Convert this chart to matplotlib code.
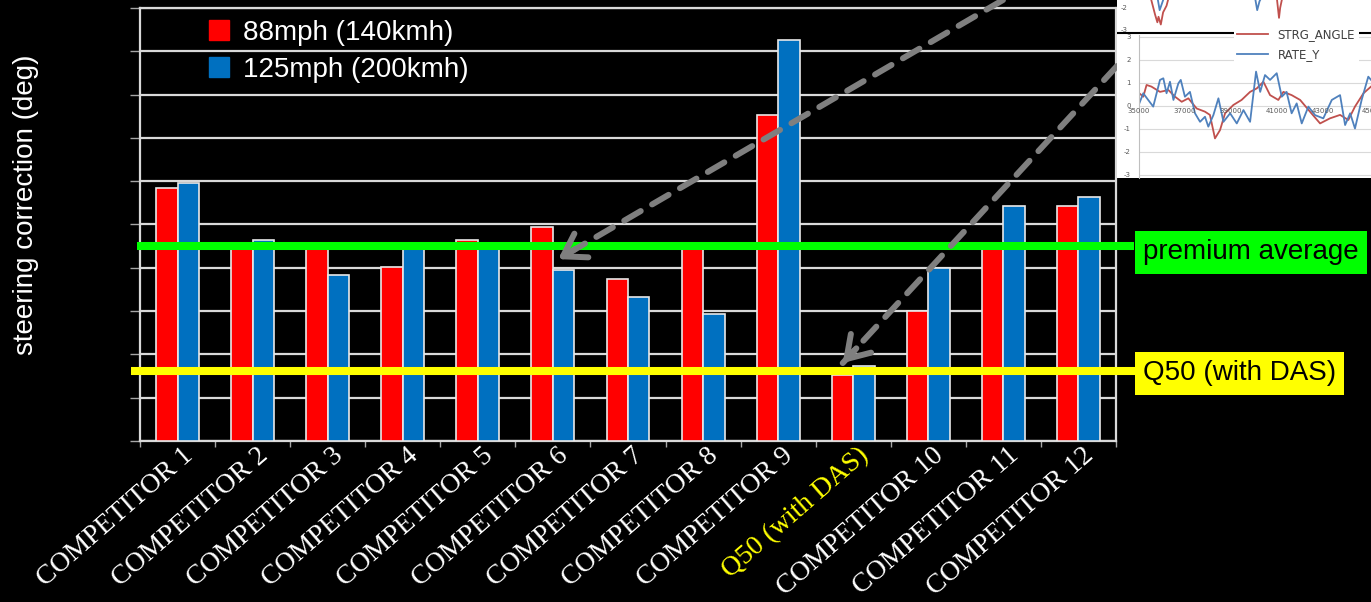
import matplotlib.pyplot as plt
import numpy as np
from matplotlib.patches import Patch
from matplotlib.transforms import ScaledTranslation, blended_transform_factory

plt.rcParams["axes.unicode_minus"] = False

# ---------------------------------------------------------------------
#  data
# ---------------------------------------------------------------------
categories = ["COMPETITOR 1", "COMPETITOR 2", "COMPETITOR 3", "COMPETITOR 4",
              "COMPETITOR 5", "COMPETITOR 6", "COMPETITOR 7", "COMPETITOR 8",
              "COMPETITOR 9", "Q50 (with DAS)", "COMPETITOR 10",
              "COMPETITOR 11", "COMPETITOR 12"]
speed_88 = [5.84, 4.45, 4.45, 4.01, 4.64, 4.95, 3.74, 4.45, 7.53, 1.52, 3.01, 4.45, 5.43]
speed_125 = [5.95, 4.64, 3.83, 4.45, 4.55, 3.95, 3.33, 2.93, 9.25, 1.73, 4.00, 5.43, 5.64]
series_labels = ["88mph (140kmh)", "125mph (200kmh)"]
premium_average = 4.5
q50_level = 1.62
highlight = "Q50 (with DAS)"

# inset trace (screenshot of a logger plot)
strg_x = [35013, 35185, 35330, 35540, 35915, 36280, 36570, 36860, 37150, 37510,
          37875, 38090, 38310, 38530, 38750, 39110, 39470, 39840, 40130, 40420,
          40710, 41070, 41290, 41650, 42020, 42450, 42890, 43320, 43760, 44120,
          44410, 44780, 45110]
strg_y = [0.54, 0.39, 0.90, 0.83, 0.60, 0.68, 0.39, 0.17, 0.32, -0.12,
          -0.26, -0.40, -1.42, -1.06, -0.33, 0.03, 0.25, 0.60, 0.75, 1.04,
          0.46, 0.25, 0.60, 0.46, 0.25, -0.26, -0.77, -0.55, -0.40, -0.62,
          -0.04, 0.54, 0.83]
rate_x = [35013, 35185, 35400, 35620, 35915, 36060, 36200, 36350, 36500, 36715,
          36820, 37000, 37220, 37440, 37660, 37875, 38020, 38240, 38460, 38680,
          38970, 39260, 39550, 39840, 40100, 40280, 40490, 40710, 41000, 41220,
          41430, 41650, 41870, 42090, 42380, 42670, 43030, 43400, 43760, 43980,
          44200, 44410, 44700, 44990, 45110]
rate_y = [0.10, 0.54, 0.25, -0.04, 1.12, 1.19, 0.54, 1.04, 0.25, 0.97,
          1.12, 0.39, 0.60, -0.33, -0.70, -0.48, -0.91, -0.41, 0.32, -0.70,
          -0.33, -0.77, -0.19, -0.70, 1.48, 0.60, 1.33, 1.12, 1.41, 0.39,
          0.60, -0.33, 0.10, -0.77, -0.04, -0.41, -0.55, 0.25, 0.46, -0.84,
          -0.33, -0.99, 0.25, 1.26, 1.12]
trace_xticks = [35000, 37000, 39000, 41000, 43000, 45000]
trace_yticks = [3, 2, 1, 0, -1, -2, -3]
# bottom of the chart above it, cut off in the screenshot
top_strg_x = [35500, 35700, 35800, 35850, 35950, 36050, 36200, 36300, 41000, 41100, 41150, 41250]
top_strg_y = [-1.5, -2.3, -2.65, -2.4, -2.75, -2.2, -1.9, -1.5, -1.5, -2.45, -2.0, -1.5]
top_rate_x = [35800, 35900, 36000, 36100, 40050, 40150, 40250, 40350]
top_rate_y = [-1.5, -2.1, -1.8, -1.5, -1.5, -2.1, -1.7, -1.5]

RED = "#ff0000"
BLUE = "#0070c0"
GREEN = "#00ff00"
YELLOW = "#ffff00"
GRID = "#d9d9d9"
ARROW = "#7f7f7f"

W, H = 1371, 602
fig = plt.figure(figsize=(W / 100, H / 100), dpi=100, facecolor="black")

# ---------------------------------------------------------------------
#  main bar chart
# ---------------------------------------------------------------------
ax = fig.add_axes([140 / W, 1 - 441 / H, (1116 - 140) / W, 433 / H])
ax.set_facecolor("black")
x = np.arange(len(categories)) + 0.5
bw = 0.286
ax.bar(x - bw / 2, speed_88, bw, color=RED, edgecolor="#e8e8e8", linewidth=1.2, zorder=3)
ax.bar(x + bw / 2, speed_125, bw, color=BLUE, edgecolor="#e8e8e8", linewidth=1.2, zorder=3)

ax.set_xlim(0, len(categories))
ax.set_ylim(0, 10)
ax.set_axisbelow(True)
ax.set_yticks(np.arange(0, 11))
ax.set_yticklabels([])
ax.yaxis.grid(True, color=GRID, linewidth=1.6)
ax.tick_params(axis="y", length=7, width=1, color="#a6a6a6")
for s in ax.spines.values():
    s.set_color(GRID)
    s.set_linewidth(1.6)

ax.set_xticks(x)
ax.set_xticks(np.arange(0, len(categories) + 1), minor=True)
ax.tick_params(axis="x", which="major", length=0, pad=0)
ax.tick_params(axis="x", which="minor", length=4.5, width=1, color="#a6a6a6")
ax.set_xticklabels(categories, rotation=41, ha="right", va="top",
                   rotation_mode="anchor", family="Liberation Serif",
                   fontsize=20, color="white")
shift = ScaledTranslation(0.04, -0.02, fig.dpi_scale_trans)
for lab in ax.get_xticklabels():
    lab.set_transform(lab.get_transform() + shift)
    if lab.get_text() == highlight:
        lab.set_color(YELLOW)

fig.text(26 / W, 1 - 205 / H, "steering correction (deg)", rotation=90,
         ha="center", va="center", color="white", fontsize=20,
         family="Liberation Sans")

handles = [Patch(color=RED), Patch(color=BLUE)]
ax.legend(handles, series_labels, loc="upper left",
          bbox_to_anchor=(209 / W, 1 - 20 / H), bbox_transform=fig.transFigure,
          frameon=False, borderpad=0, borderaxespad=0, handlelength=0.72,
          handleheight=0.72, handletextpad=0.5, labelspacing=0.4,
          prop={"family": "Liberation Sans", "size": 20}, labelcolor="white")

# reference lines + their tags
blend = blended_transform_factory(fig.transFigure, ax.transData)
ax.plot([137 / W, 1134 / W], [premium_average] * 2, color=GREEN, lw=5.8,
        transform=blend, clip_on=False, zorder=5, solid_capstyle="butt")
ax.plot([131 / W, 1135 / W], [q50_level] * 2, color=YELLOW, lw=5.8,
        transform=blend, clip_on=False, zorder=5, solid_capstyle="butt")
ax.text(1143 / W, premium_average - 0.14, "premium average", transform=blend,
        ha="left", va="center", fontsize=20, family="Liberation Sans",
        color="black", zorder=6,
        bbox=dict(boxstyle="square,pad=0.3", facecolor=GREEN, edgecolor="none"))
ax.text(1143 / W, q50_level - 0.06, "Q50 (with DAS)", transform=blend,
        ha="left", va="center", fontsize=20, family="Liberation Sans",
        color="black", zorder=6,
        bbox=dict(boxstyle="square,pad=0.3", facecolor=YELLOW, edgecolor="none"))

# dashed pointers
def pointer(tip, tail, head_off):
    ax.annotate("", xy=tip, xycoords="data", xytext=tail, textcoords="figure fraction",
                arrowprops=dict(arrowstyle="-", color=ARROW, lw=4.3,
                                linestyle=(0, (3.2, 2.2)), shrinkA=0, shrinkB=0),
                zorder=7, annotation_clip=False)
    ax.annotate("", xy=tip, xycoords="data", xytext=head_off, textcoords="offset points",
                arrowprops=dict(arrowstyle="->,head_length=0.7,head_width=0.45",
                                color=ARROW, lw=4.3, shrinkA=0, shrinkB=0,
                                mutation_scale=22),
                zorder=7, annotation_clip=False)

pointer((5.57, 4.2), (1003 / W, 1.0), (12.4, 7.3))
pointer((9.36, 1.8), (1117 / W, 1 - 66 / H), (9.8, 10.6))

# ---------------------------------------------------------------------
#  pasted logger screenshot, top right
# ---------------------------------------------------------------------
bg = fig.add_axes([1117 / W, 1 - 178 / H, 254 / W, 178 / H])
bg.set_facecolor("white")
bg.set_xticks([]); bg.set_yticks([])
for s in bg.spines.values():
    s.set_visible(False)
bg.plot([0, 1], [1 - 33 / 178] * 2, color="black", lw=1.5)
bg.set_xlim(0, 1); bg.set_ylim(0, 1)

top = fig.add_axes([1139 / W, 1 - 32 / H, 232 / W, 32 / H])
top.set_xlim(35000, 45108)
top.set_ylim(-3.09, -1.64)
top.plot(top_strg_x, top_strg_y, color="#c0504d", lw=1.3)
top.plot(top_rate_x, top_rate_y, color="#4f81bd", lw=1.3)
top.axis("off")
for v in (-2, -3):
    top.text(-0.05, v, str(v), transform=top.get_yaxis_transform(),
             ha="right", va="center", fontsize=5, color="#595959")

tr = fig.add_axes([1139 / W, 1 - 178 / H, 232 / W, 143 / H])
tr.set_facecolor("none")
tr.set_xlim(35000, 45108)
tr.set_ylim(-3.14, 3.07)
for v in trace_yticks:
    tr.axhline(v, color="#d9d9d9", lw=0.8, zorder=0)
tr.plot(strg_x, strg_y, color="#c0504d", lw=1.3, label="STRG_ANGLE")
tr.plot(rate_x, rate_y, color="#4f81bd", lw=1.3, label="RATE_Y")
for s in tr.spines.values():
    s.set_visible(False)
tr.spines["left"].set_visible(True)
tr.spines["left"].set_color("#bfbfbf")
tr.set_xticks([])
tr.set_yticks(trace_yticks)
tr.tick_params(axis="y", length=0, labelsize=5, labelcolor="#595959", pad=6)
for v in trace_xticks[:-1]:
    tr.text(v, -0.12, str(v), ha="center", va="top", fontsize=5, color="#595959")
# last label is cut by the screenshot edge
tr.text(trace_xticks[-1], -0.12, str(trace_xticks[-1])[:4], ha="left", va="top",
        fontsize=5, color="#595959", transform=tr.transData + ScaledTranslation(-0.07, 0, fig.dpi_scale_trans))
leg = tr.legend(loc="upper left", bbox_to_anchor=(1228 / W, 1 - 19 / H),
                bbox_transform=fig.transFigure, frameon=True, fancybox=False,
                edgecolor="white", framealpha=1, fontsize=8.5, handlelength=2.6,
                labelcolor="#404040", borderpad=0.3, labelspacing=0.6)
leg.get_frame().set_linewidth(0)

fig.savefig("out.png", dpi=100, facecolor="black")
